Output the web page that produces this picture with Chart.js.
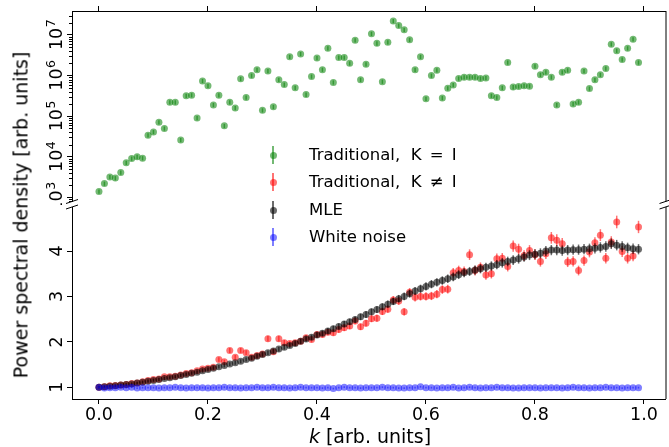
<!DOCTYPE html>
<html>
<head>
<meta charset="utf-8">
<script src="https://cdn.jsdelivr.net/npm/chart.js@4.4.1/dist/chart.umd.min.js"></script>
<style>
  html, body { margin: 0; padding: 0; background: #fff; }
  #wrap { position: relative; width: 669px; height: 447px; overflow: hidden; font-family: "DejaVu Sans", sans-serif; color: #000; }
  #topPanel { position: absolute; left: 0; top: 0; }
  #bottomPanel { position: absolute; left: 0; top: 202px; }
  #ylab { position: absolute; left: 20.5px; top: 215px; transform: translate(-50%, -50%) rotate(-90deg); white-space: nowrap; font-size: 19px; line-height: 19px; }
  #xlab { position: absolute; left: 370px; top: 436px; transform: translate(-50%, -50%); white-space: nowrap; font-size: 19px; line-height: 19px; }
  .leg { position: absolute; left: 260px; height: 20px; width: 260px; }
  .leg .bar { position: absolute; left: 12.25px; top: 1px; width: 1.5px; height: 18px; }
  .leg .dot { position: absolute; left: 9.5px; top: 6.5px; width: 7px; height: 7px; border-radius: 50%; }
  .leg .txt { position: absolute; left: 49px; top: 0; line-height: 20px; font-size: 16.5px; white-space: pre; }
</style>
</head>
<body>
<div id="wrap">
  <canvas id="topPanel" width="669" height="205"></canvas>
  <canvas id="bottomPanel" width="669" height="245"></canvas>
  <div id="ylab">Power spectral density [arb. units]</div>
  <div id="xlab"><i>k</i> [arb. units]</div>
</div>
<script>
// wavenumbers (x axis)
const kValues = [
  0.00, 0.01, 0.02, 0.03, 0.04, 0.05, 0.06, 0.07, 0.08, 0.09,
  0.10, 0.11, 0.12, 0.13, 0.14, 0.15, 0.16, 0.17, 0.18, 0.19,
  0.20, 0.21, 0.22, 0.23, 0.24, 0.25, 0.26, 0.27, 0.28, 0.29,
  0.30, 0.31, 0.32, 0.33, 0.34, 0.35, 0.36, 0.37, 0.38, 0.39,
  0.40, 0.41, 0.42, 0.43, 0.44, 0.45, 0.46, 0.47, 0.48, 0.49,
  0.50, 0.51, 0.52, 0.53, 0.54, 0.55, 0.56, 0.57, 0.58, 0.59,
  0.60, 0.61, 0.62, 0.63, 0.64, 0.65, 0.66, 0.67, 0.68, 0.69,
  0.70, 0.71, 0.72, 0.73, 0.74, 0.75, 0.76, 0.77, 0.78, 0.79,
  0.80, 0.81, 0.82, 0.83, 0.84, 0.85, 0.86, 0.87, 0.88, 0.89,
  0.90, 0.91, 0.92, 0.93, 0.94, 0.95, 0.96, 0.97, 0.98, 0.99
];

// Traditional, K = I  (top panel, log scale)
const tradEqual = [
  1.4e3, 2.2e3, 3.2e3, 3.0e3, 4.1e3, 7.2e3, 9.1e3, 1.0e4, 9.3e3, 3.4e4,
  4.1e4, 7.1e4, 5.0e4, 2.2e5, 2.2e5, 2.6e4, 3.2e5, 3.3e5, 9.1e4, 7.4e5,
  5.6e5, 1.9e5, 3.3e5, 5.8e4, 2.2e5, 1.6e5, 8.3e5, 2.9e5, 1.0e6, 1.4e6,
  1.4e5, 1.3e6, 1.7e5, 7.9e5, 6.0e5, 2.9e6, 5.0e5, 3.4e6, 3.4e5, 9.5e5,
  2.7e6, 1.4e6, 4.7e6, 6.8e5, 2.8e6, 2.8e6, 2.0e6, 7.4e6, 7.9e5, 1.9e6,
  1.07e7, 6.2e6, 7.1e5, 6.6e6, 2.2e7, 1.7e7, 1.35e7, 7.6e6, 1.4e6, 2.9e6,
  2.7e5, 1.0e6, 1.35e6, 2.8e5, 4.9e5, 5.9e5, 8.5e5, 9.1e5, 9.1e5, 9.1e5,
  8.5e5, 8.7e5, 3.2e5, 2.9e5, 5.0e5, 2.1e6, 5.2e5, 5.4e5, 5.6e5, 5.5e5,
  1.7e6, 1.05e6, 1.2e6, 9.1e5, 1.9e5, 1.2e6, 1.35e6, 2.0e5, 2.2e5, 1.3e6,
  4.8e5, 7.9e5, 1.05e6, 1.5e6, 5.9e6, 4.1e6, 2.5e6, 4.7e6, 7.8e6, 2.1e6
];

// Traditional, K != I
const tradNotEqual = [
  1.00, 1.01, 1.03, 1.04, 1.05, 1.06, 1.08, 1.09, 1.12, 1.15,
  1.17, 1.18, 1.23, 1.23, 1.24, 1.27, 1.30, 1.32, 1.36, 1.40,
  1.42, 1.44, 1.61, 1.56, 1.81, 1.66, 1.81, 1.76, 1.66, 1.70,
  1.73, 2.07, 1.78, 2.07, 1.98, 1.96, 1.98, 2.01, 2.09, 2.05,
  2.16, 2.16, 2.21, 2.20, 2.27, 2.31, 2.35, 2.46, 2.33, 2.41,
  2.51, 2.52, 2.67, 2.72, 2.92, 2.90, 2.66, 3.09, 2.98, 3.00,
  3.00, 3.01, 3.05, 3.15, 3.16, 3.52, 3.57, 3.55, 3.92, 3.57,
  3.64, 3.47, 3.50, 3.83, 3.84, 3.66, 4.11, 4.04, 3.90, 4.01,
  3.92, 3.77, 3.94, 4.29, 4.24, 4.16, 3.76, 3.77, 3.57, 3.79,
  3.98, 4.18, 4.35, 3.84, 4.20, 4.64, 3.99, 3.84, 3.89, 4.53
];

// MLE
const mle = [
  1.00, 1.01, 1.02, 1.03, 1.05, 1.06, 1.07, 1.09, 1.11, 1.13,
  1.15, 1.17, 1.19, 1.21, 1.23, 1.26, 1.28, 1.31, 1.33, 1.36,
  1.39, 1.42, 1.45, 1.48, 1.51, 1.54, 1.57, 1.61, 1.64, 1.68,
  1.72, 1.76, 1.80, 1.84, 1.88, 1.92, 1.96, 2.01, 2.06, 2.10,
  2.15, 2.19, 2.24, 2.29, 2.34, 2.39, 2.44, 2.49, 2.55, 2.60,
  2.66, 2.71, 2.77, 2.83, 2.89, 2.95, 3.00, 3.06, 3.12, 3.17,
  3.22, 3.27, 3.31, 3.35, 3.39, 3.43, 3.48, 3.52, 3.55, 3.58,
  3.61, 3.64, 3.67, 3.70, 3.74, 3.77, 3.80, 3.83, 3.87, 3.91,
  3.93, 3.95, 4.00, 4.02, 4.02, 4.01, 4.02, 4.03, 4.03, 4.04,
  4.05, 4.06, 4.08, 4.10, 4.16, 4.13, 4.10, 4.07, 4.05, 4.04
];

// White noise
const whiteNoise = [
  1.00, 0.98, 0.99, 0.99, 1.00, 0.99, 1.00, 0.98, 0.99, 0.99,
  0.99, 0.98, 0.99, 0.99, 1.00, 0.99, 0.98, 0.99, 0.99, 0.99,
  0.98, 0.99, 0.99, 1.00, 0.99, 0.99, 0.98, 0.99, 0.99, 1.00,
  0.99, 0.99, 1.00, 0.99, 0.99, 0.98, 0.99, 1.00, 0.99, 0.99,
  0.99, 0.98, 0.99, 0.97, 0.99, 1.00, 0.99, 0.99, 0.98, 0.99,
  0.99, 0.99, 1.00, 0.99, 0.99, 0.98, 0.98, 0.99, 0.99, 1.01,
  0.99, 0.99, 0.98, 0.99, 0.99, 1.00, 0.98, 0.99, 1.00, 0.99,
  0.98, 0.99, 0.99, 1.00, 0.99, 0.99, 0.98, 0.98, 0.99, 0.99,
  0.99, 0.98, 0.99, 0.99, 0.99, 0.98, 0.99, 1.00, 0.99, 0.99,
  0.98, 0.99, 0.99, 1.00, 0.99, 0.99, 0.98, 0.99, 0.99, 0.99
];

// relative error bar sizes
const greenRelErr = 0.12;
const redRelErr = 0.03;
const mleRelErr = 0.028;
const whiteRelErr = 0.02;

// tick labels
const xTicks = [0, 0.2, 0.4, 0.6, 0.8, 1.0];
const topTickExps = [3, 4, 5, 6, 7];
const bottomTicks = [1, 2, 3, 4];

const seriesNames = ['Traditional,  K\u2002=\u2002I', 'Traditional,  K\u2002\u2260\u2002I', 'MLE', 'White noise'];

const GREEN = 'rgba(0, 128, 0, 0.55)';
const RED = 'rgba(255, 0, 0, 0.55)';
const BLACK = 'rgba(0, 0, 0, 0.58)';
const BLUE = 'rgba(0, 0, 255, 0.5)';
const seriesColors = [GREEN, RED, BLACK, BLUE];

const TICK_FONT = '17.5px "DejaVu Sans"';
const EXP_FONT = '12.5px "DejaVu Sans"';

Chart.defaults.font.family = '"DejaVu Sans"';
Chart.defaults.color = '#000';

function pts(ys) {
  return kValues.map((k, i) => ({ x: k, y: ys[i] }));
}

// error bars, drawn under each dataset's markers
const errorBars = {
  id: 'errorBars',
  beforeDatasetDraw(chart, args) {
    const ds = chart.data.datasets[args.index];
    if (!ds.relErr) return;
    const xs = chart.scales.x, ys = chart.scales.y;
    const ctx = chart.ctx;
    ctx.save();
    ctx.strokeStyle = ds.backgroundColor;
    ctx.lineWidth = 1.5;
    ds.data.forEach(p => {
      const px = xs.getPixelForValue(p.x);
      const y1 = ys.getPixelForValue(p.y * (1 - ds.relErr));
      const y2 = ys.getPixelForValue(p.y * (1 + ds.relErr));
      ctx.beginPath();
      ctx.moveTo(px, y1);
      ctx.lineTo(px, y2);
      ctx.stroke();
    });
    ctx.restore();
  }
};

function rotLabel(ctx, x, y, base, exp) {
  ctx.save();
  ctx.translate(x, y);
  ctx.rotate(-Math.PI / 2);
  ctx.fillStyle = '#000';
  ctx.textBaseline = 'alphabetic';
  ctx.textAlign = 'left';
  ctx.font = TICK_FONT;
  const w1 = ctx.measureText(base).width;
  let w2 = 0;
  if (exp) { ctx.font = EXP_FONT; w2 = ctx.measureText(exp).width; }
  const x0 = -(w1 + w2) / 2;
  ctx.font = TICK_FONT;
  ctx.fillText(base, x0, 0);
  if (exp) { ctx.font = EXP_FONT; ctx.fillText(exp, x0 + w1 + 0.5, -7.5); }
  ctx.restore();
}

function breakMark(ctx, x, y) {
  ctx.beginPath();
  ctx.moveTo(x - 6, y + 2);
  ctx.lineTo(x + 6, y - 2);
  ctx.stroke();
}

const topFrame = {
  id: 'topFrame',
  afterDraw(chart) {
    const { ctx, chartArea: a } = chart;
    const ys = chart.scales.y;
    ctx.save();
    ctx.strokeStyle = '#000';
    ctx.lineWidth = 1;
    // right spine
    ctx.beginPath();
    ctx.moveTo(a.right + 0.5, a.top);
    ctx.lineTo(a.right + 0.5, a.bottom);
    ctx.stroke();
    // minor log ticks
    for (let d = 2; d <= 7; d++) {
      for (let m = 2; m <= 9; m++) {
        const v = m * Math.pow(10, d);
        if (v < ys.min || v > ys.max) continue;
        const py = Math.round(ys.getPixelForValue(v)) + 0.5;
        ctx.beginPath();
        ctx.moveTo(a.left - 3, py);
        ctx.lineTo(a.left, py);
        ctx.stroke();
      }
    }
    // tick labels
    topTickExps.forEach(e => {
      rotLabel(ctx, a.left - 10, ys.getPixelForValue(Math.pow(10, e)), '10', String(e));
    });
    // break marks
    breakMark(ctx, a.left, a.bottom);
    breakMark(ctx, a.right, a.bottom);
    ctx.restore();
  }
};

const bottomFrame = {
  id: 'bottomFrame',
  afterDraw(chart) {
    const { ctx, chartArea: a } = chart;
    const ys = chart.scales.y;
    ctx.save();
    ctx.strokeStyle = '#000';
    ctx.lineWidth = 1;
    ctx.beginPath();
    ctx.moveTo(a.right + 0.5, a.top);
    ctx.lineTo(a.right + 0.5, a.bottom);
    ctx.stroke();
    bottomTicks.forEach(t => rotLabel(ctx, a.left - 10, ys.getPixelForValue(t), String(t)));
    breakMark(ctx, a.left, a.top);
    breakMark(ctx, a.right, a.top);
    ctx.restore();
  }
};

const xRange = { min: -0.0495, max: 1.0395 };

const baseOptions = {
  responsive: false,
  animation: false,
  events: [],
  plugins: { legend: { display: false }, tooltip: { enabled: false } },
  elements: { point: { radius: 3.5, hoverRadius: 3.5, borderWidth: 0 } }
};

const tickGrid = { drawOnChartArea: false, tickLength: 5, tickColor: '#000', lineWidth: 1 };

const topChart = new Chart(document.getElementById('topPanel'), {
  type: 'scatter',
  data: {
    datasets: [{
      label: seriesNames[0],
      data: pts(tradEqual),
      backgroundColor: GREEN,
      relErr: greenRelErr
    }]
  },
  options: {
    ...baseOptions,
    layout: { padding: { top: 0, right: 1, bottom: 3, left: 0 } },
    scales: {
      x: {
        type: 'linear', position: 'top', min: xRange.min, max: xRange.max,
        afterBuildTicks: s => { s.ticks = xTicks.map(v => ({ value: v })); },
        afterFit: s => { s.height = 11; },
        ticks: { display: false },
        grid: tickGrid,
        border: { color: '#000', width: 1 }
      },
      y: {
        type: 'logarithmic', position: 'left', min: 798, max: 3.88e7,
        afterBuildTicks: s => { s.ticks = topTickExps.map(e => ({ value: Math.pow(10, e) })); },
        afterFit: s => { s.width = 72; },
        ticks: { display: false },
        grid: tickGrid,
        border: { color: '#000', width: 1 }
      }
    }
  },
  plugins: [errorBars, topFrame]
});

const bottomChart = new Chart(document.getElementById('bottomPanel'), {
  type: 'scatter',
  data: {
    datasets: [
      { label: seriesNames[1], data: pts(tradNotEqual), backgroundColor: RED, relErr: redRelErr, order: 3 },
      { label: seriesNames[2], data: pts(mle), backgroundColor: BLACK, relErr: mleRelErr, order: 2 },
      { label: seriesNames[3], data: pts(whiteNoise), backgroundColor: BLUE, relErr: whiteRelErr, order: 1 }
    ]
  },
  options: {
    ...baseOptions,
    layout: { padding: { top: 5, right: 1, bottom: 0, left: 0 } },
    scales: {
      x: {
        type: 'linear', position: 'bottom', min: xRange.min, max: xRange.max,
        afterBuildTicks: s => { s.ticks = xTicks.map(v => ({ value: v })); },
        afterFit: s => { s.height = 48; },
        ticks: { autoSkip: false, maxRotation: 0, padding: 1, font: { size: 17.5 }, callback: v => v.toFixed(1) },
        grid: tickGrid,
        border: { color: '#000', width: 1 }
      },
      y: {
        type: 'linear', position: 'left', min: 0.74, max: 4.97,
        afterBuildTicks: s => { s.ticks = bottomTicks.map(v => ({ value: v })); },
        afterFit: s => { s.width = 72; },
        ticks: { display: false },
        grid: tickGrid,
        border: { color: '#000', width: 1 }
      }
    }
  },
  plugins: [errorBars, bottomFrame]
});

// legend overlay spanning both panels
const legendRows = [155, 182, 210, 237];
const wrap = document.getElementById('wrap');
seriesNames.forEach((name, i) => {
  const row = document.createElement('div');
  row.className = 'leg';
  row.style.top = (legendRows[i] - 10) + 'px';
  row.innerHTML = '<span class="bar"></span><span class="dot"></span><span class="txt"></span>';
  row.querySelector('.bar').style.background = seriesColors[i];
  row.querySelector('.dot').style.background = seriesColors[i];
  row.querySelector('.txt').textContent = name;
  wrap.appendChild(row);
});
</script>
</body>
</html>
